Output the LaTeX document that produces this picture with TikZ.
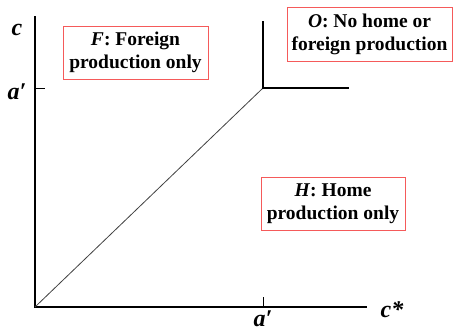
\documentclass[tikz,border=0pt]{standalone}
\usepackage{fontspec}
\setmainfont{Liberation Serif}
\usetikzlibrary{calc}
\definecolor{boxred}{RGB}{245,90,90}

\begin{document}
\begin{tikzpicture}[x=1pt,y=-1pt,
  region/.style={draw=boxred,line width=1pt,fill=white,align=center,inner sep=0pt,
    font=\fontsize{19.5}{23}\selectfont\bfseries},
  axislabel/.style={font=\fontsize{24}{24}\selectfont\bfseries\itshape}]
  % Parameters

\def\Ox{35}     % origin
\def\Oy{307}
\def\A{263}     % a' on the c* axis
\def\B{88}      % a' on the c axis

\useasboundingbox (0,0) rectangle (454,332);

 \coordinate (O) at (\Ox,\Oy);
 \coordinate (Ytop) at (\Ox,16);
 \coordinate (Xend) at (367,\Oy);
 \coordinate (K) at (\A,\B);
 \coordinate (Kup) at (\A,21);
 \coordinate (Kright) at (349,\B);
 \coordinate (Xtick) at (\A,\Oy);
 \coordinate (Ytick) at (\Ox,\B);

  % axes
  \draw[line width=1.2pt] (Ytop) -- (O) -- (Xend);
  \draw[line width=1pt] (Xtick) -- +(0,-10);
  \draw[line width=1pt] (Ytick) -- +(10,0);

  % borders between the regions
  \draw[line width=0.8pt,black!75] (O) -- (K);
  \draw[line width=1.1pt] (Kup) -- (K) -- (Kright);

\node[axislabel] (lc) at (17,30) {c};
\node[axislabel] (lay) at (17,92) {a′};
\node[axislabel] (lax) at (263,319) {a′};
\node[axislabel] (lcs) at (392,310) {c*};

\node[region,minimum width=145pt,minimum height=53pt] (F) at (135.5,52.5)
  {\textit{F}: Foreign\\production only};
\node[region,minimum width=165pt,minimum height=54pt] (Oreg) at (369.5,34)
  {\textit{O}: No home or\\foreign production};
\node[region,minimum width=144pt,minimum height=53pt] (H) at (333,203.5)
  {\textit{H}: Home\\production only};

  \end{tikzpicture}
\end{document}
